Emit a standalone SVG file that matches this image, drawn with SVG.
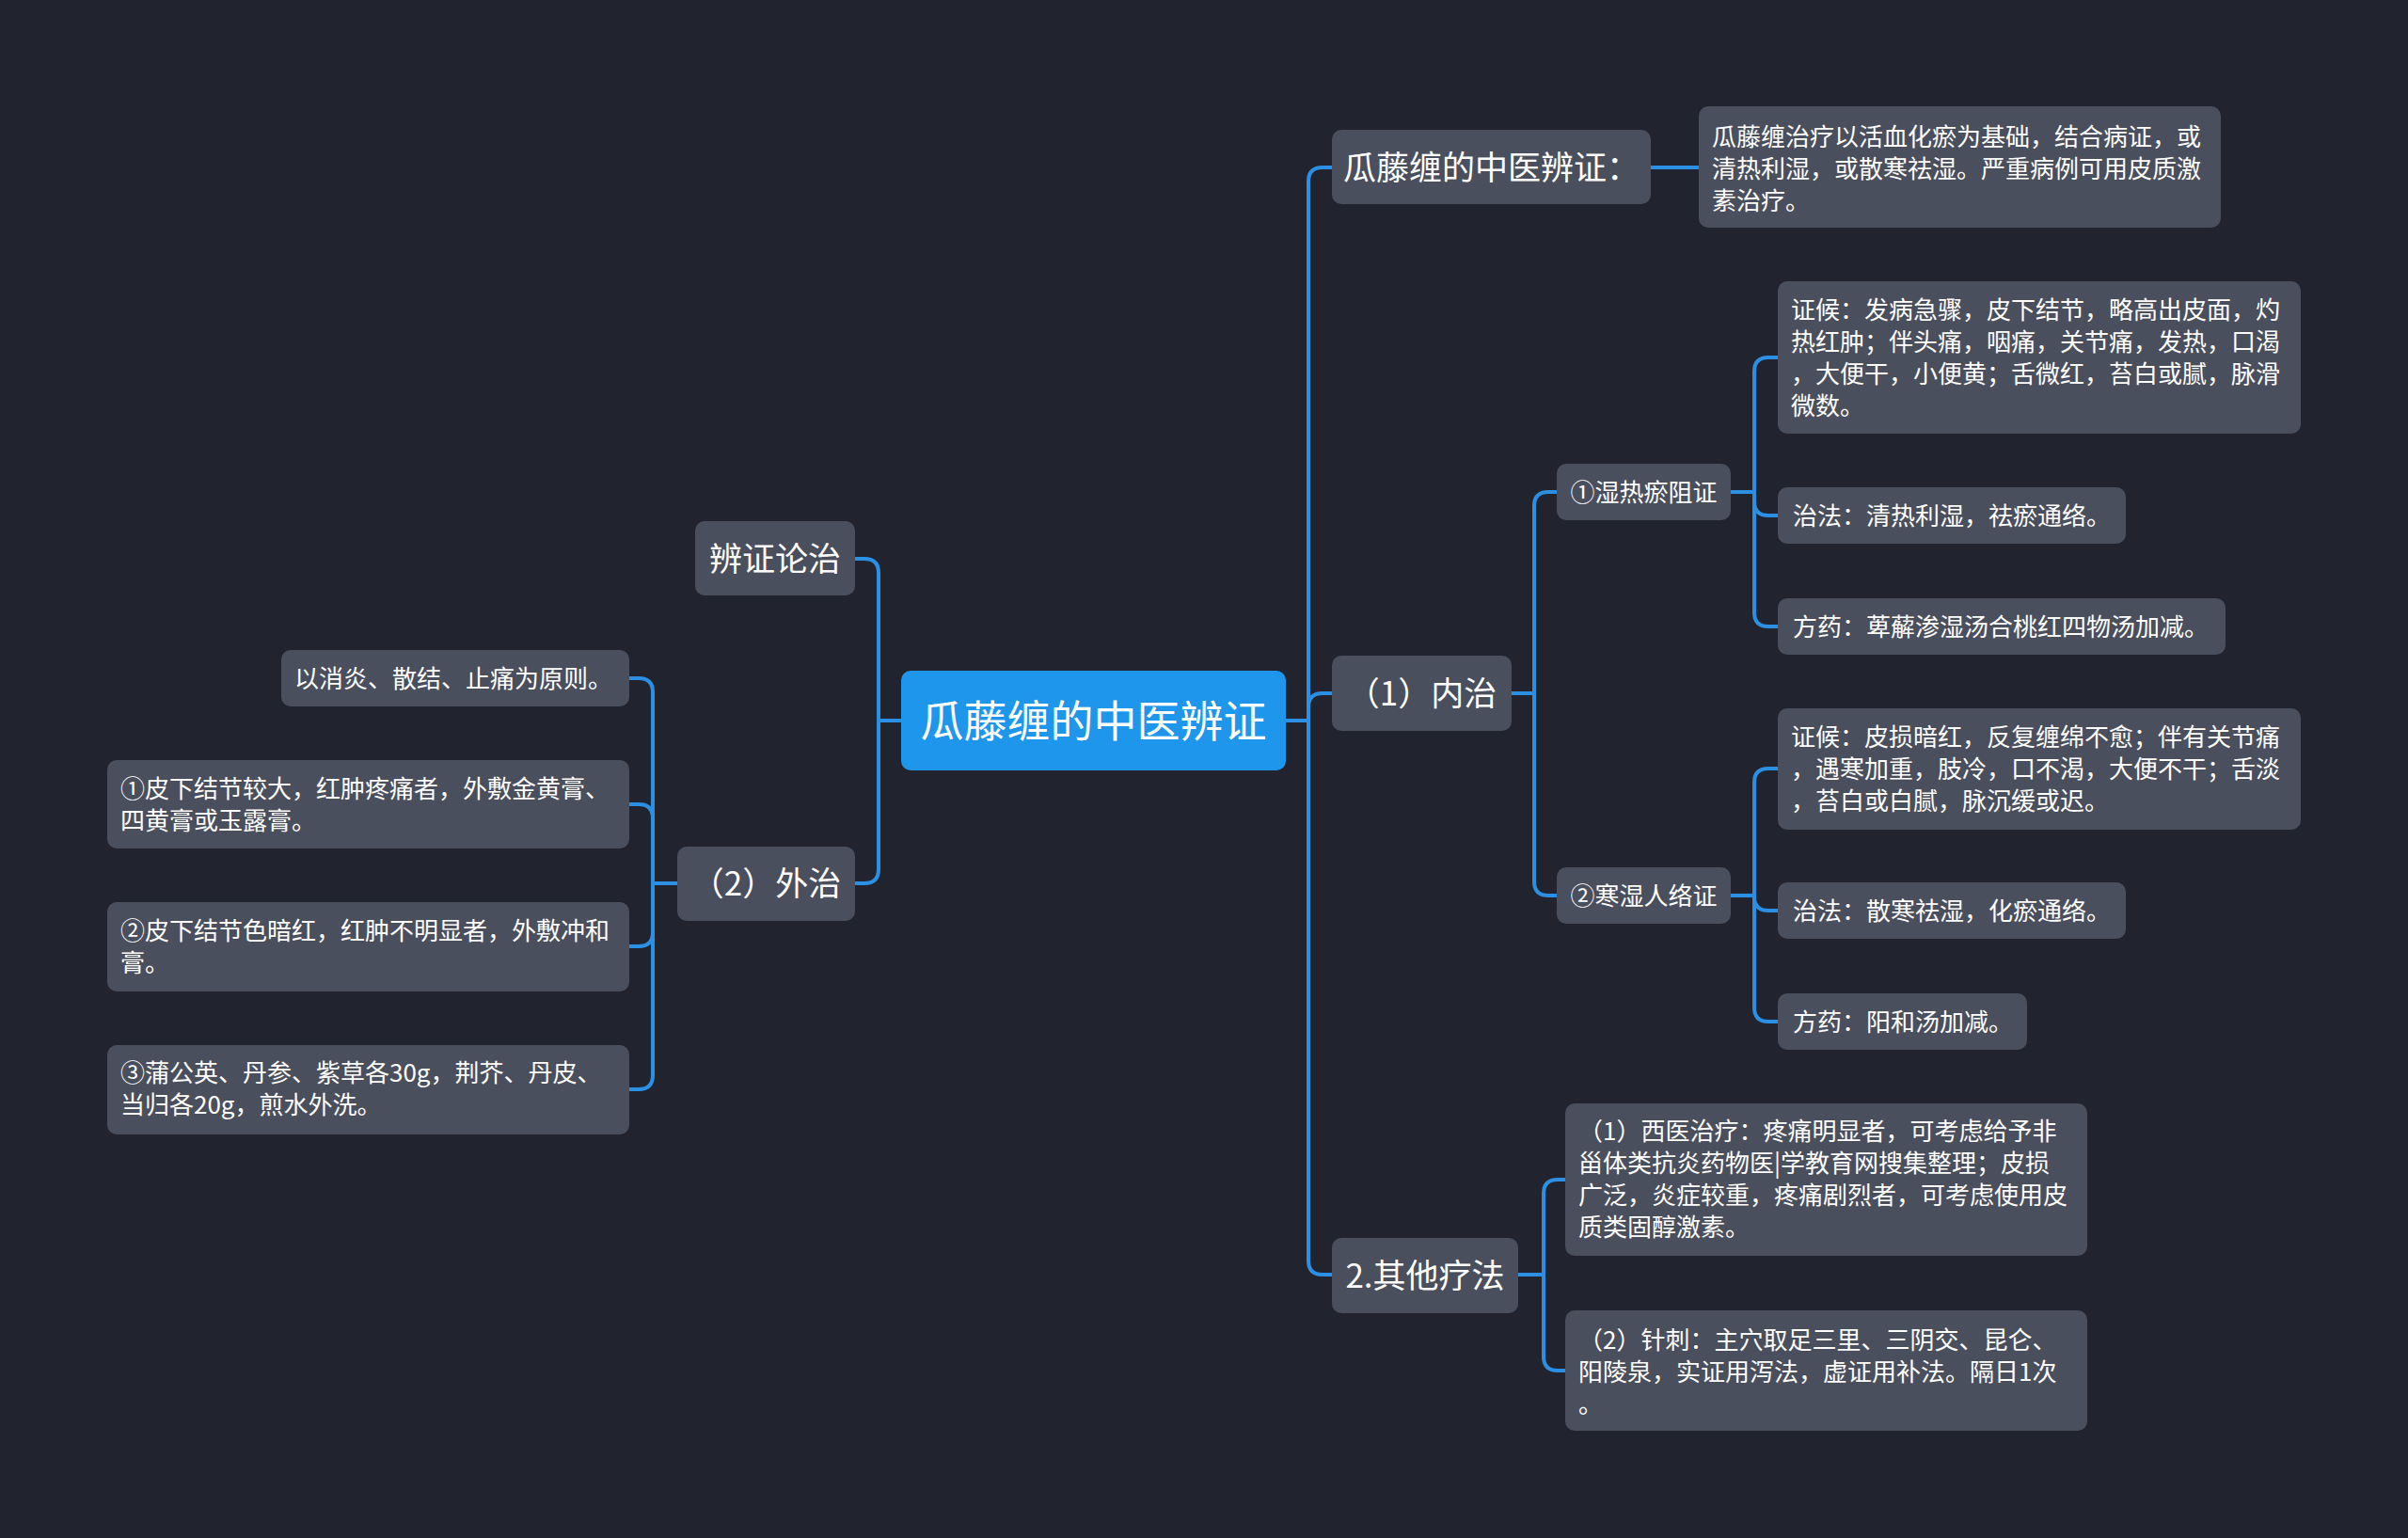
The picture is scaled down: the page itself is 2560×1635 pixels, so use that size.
<svg xmlns="http://www.w3.org/2000/svg" width="2560" height="1635" viewBox="0 0 2560 1635">
<style>
.bg{fill:#21242f}
.n{fill:#4a4f5e}
.root{fill:#1e96ec}
.c{fill:none;stroke:#2b8fe3;stroke-width:4;stroke-linecap:round;stroke-linejoin:round}
text{fill:#ffffff;font-family:"Noto Sans CJK SC","Noto Sans",sans-serif}
.t1{font-size:35px;text-anchor:middle}
.t2{font-size:26px;text-anchor:middle}
.t3{font-size:26px}
.t0{font-size:46px;text-anchor:middle}
</style>
<rect class="bg" x="0" y="0" width="2560" height="1635"/>
<g id="connectors">
<path class="c" d="M1367,766 H1391"/>
<path class="c" d="M1391,766 V193 Q1391,178 1406,178 H1416"/>
<path class="c" d="M1391,766 V752 Q1391,737 1406,737 H1416"/>
<path class="c" d="M1391,766 V1340 Q1391,1355 1406,1355 H1416"/>
<path class="c" d="M1755,178 H1806"/>
<path class="c" d="M1607,737 H1631"/>
<path class="c" d="M1631,737 V538 Q1631,523 1646,523 H1655"/>
<path class="c" d="M1631,737 V937 Q1631,952 1646,952 H1655"/>
<path class="c" d="M1840,523 H1865"/>
<path class="c" d="M1865,523 V395 Q1865,380 1880,380 H1890"/>
<path class="c" d="M1865,523 V533 Q1865,548 1880,548 H1890"/>
<path class="c" d="M1865,523 V651 Q1865,666 1880,666 H1890"/>
<path class="c" d="M1840,952 H1865"/>
<path class="c" d="M1865,952 V832 Q1865,817 1880,817 H1890"/>
<path class="c" d="M1865,952 V953 Q1865,968 1880,968 H1890"/>
<path class="c" d="M1865,952 V1071 Q1865,1086 1880,1086 H1890"/>
<path class="c" d="M1614,1355 H1641"/>
<path class="c" d="M1641,1355 V1269 Q1641,1254 1656,1254 H1664"/>
<path class="c" d="M1641,1355 V1442 Q1641,1457 1656,1457 H1664"/>
<path class="c" d="M958,766 H934"/>
<path class="c" d="M934,766 V609 Q934,594 919,594 H909"/>
<path class="c" d="M934,766 V924 Q934,939 919,939 H909"/>
<path class="c" d="M720,939 H694"/>
<path class="c" d="M694,939 V736 Q694,721 679,721 H669"/>
<path class="c" d="M694,939 V870 Q694,855 679,855 H669"/>
<path class="c" d="M694,939 V991 Q694,1006 679,1006 H669"/>
<path class="c" d="M694,939 V1143 Q694,1158 679,1158 H669"/>
</g>
<g id="root"><rect class="root" x="958" y="713" width="409" height="106" rx="10"/><text class="t0" x="1162.5" y="783">瓜藤缠的中医辨证</text></g>
<g id="n-zhongyi"><rect class="n" x="1416" y="138" width="339" height="79" rx="10"/><text class="t1" x="1585.5" y="191">瓜藤缠的中医辨证：</text></g>
<g id="n-zhongyi-c"><rect class="n" x="1806" y="113" width="555" height="129" rx="10"/>
<text class="t3" x="1820" y="155">瓜藤缠治疗以活血化瘀为基础，结合病证，或</text>
<text class="t3" x="1820" y="189">清热利湿，或散寒祛湿。严重病例可用皮质激</text>
<text class="t3" x="1820" y="223">素治疗。</text></g>
<g id="n-neizhi"><rect class="n" x="1416" y="697" width="191" height="80" rx="10"/><text class="t1" x="1511.5" y="750">（1）内治</text></g>
<g id="n-shire"><rect class="n" x="1655" y="493" width="185" height="60" rx="10"/><text class="t2" x="1747.5" y="533">①湿热瘀阻证</text></g>
<g id="n-shire-zh"><rect class="n" x="1890" y="299" width="556" height="162" rx="10"/>
<text class="t3" x="1904" y="339">证候：发病急骤，皮下结节，略高出皮面，灼</text>
<text class="t3" x="1904" y="373">热红肿；伴头痛，咽痛，关节痛，发热，口渴</text>
<text class="t3" x="1904" y="407">，大便干，小便黄；舌微红，苔白或腻，脉滑</text>
<text class="t3" x="1904" y="441">微数。</text></g>
<g id="n-shire-zf"><rect class="n" x="1890" y="518" width="370" height="60" rx="10"/><text class="t3" x="1906" y="558">治法：清热利湿，祛瘀通络。</text></g>
<g id="n-shire-fy"><rect class="n" x="1890" y="636" width="476" height="60" rx="10"/><text class="t3" x="1906" y="676">方药：萆薢渗湿汤合桃红四物汤加减。</text></g>
<g id="n-hanshi"><rect class="n" x="1655" y="922" width="185" height="60" rx="10"/><text class="t2" x="1747.5" y="962">②寒湿人络证</text></g>
<g id="n-hanshi-zh"><rect class="n" x="1890" y="753" width="556" height="129" rx="10"/>
<text class="t3" x="1904" y="793">证候：皮损暗红，反复缠绵不愈；伴有关节痛</text>
<text class="t3" x="1904" y="827">，遇寒加重，肢冷，口不渴，大便不干；舌淡</text>
<text class="t3" x="1904" y="861">，苔白或白腻，脉沉缓或迟。</text></g>
<g id="n-hanshi-zf"><rect class="n" x="1890" y="938" width="370" height="60" rx="10"/><text class="t3" x="1906" y="978">治法：散寒祛湿，化瘀通络。</text></g>
<g id="n-hanshi-fy"><rect class="n" x="1890" y="1056" width="265" height="60" rx="10"/><text class="t3" x="1906" y="1096">方药：阳和汤加减。</text></g>
<g id="n-qita"><rect class="n" x="1416" y="1316" width="198" height="80" rx="10"/><text class="t1" x="1515" y="1369">2.其他疗法</text></g>
<g id="n-xiyi"><rect class="n" x="1664" y="1173" width="555" height="162" rx="10"/>
<text class="t3" x="1678" y="1212">（1）西医治疗：疼痛明显者，可考虑给予非</text>
<text class="t3" x="1678" y="1246">甾体类抗炎药物医|学教育网搜集整理；皮损</text>
<text class="t3" x="1678" y="1280">广泛，炎症较重，疼痛剧烈者，可考虑使用皮</text>
<text class="t3" x="1678" y="1314">质类固醇激素。</text></g>
<g id="n-zhenci"><rect class="n" x="1664" y="1393" width="555" height="128" rx="10"/>
<text class="t3" x="1678" y="1434">（2）针刺：主穴取足三里、三阴交、昆仑、</text>
<text class="t3" x="1678" y="1468">阳陵泉，实证用泻法，虚证用补法。隔日1次</text>
<text class="t3" x="1678" y="1502">。</text></g>
<g id="n-bianzheng"><rect class="n" x="739" y="554" width="170" height="79" rx="10"/><text class="t1" x="824" y="607">辨证论治</text></g>
<g id="n-waizhi"><rect class="n" x="720" y="900" width="189" height="79" rx="10"/><text class="t1" x="814.5" y="952">（2）外治</text></g>
<g id="n-yuanze"><rect class="n" x="299" y="691" width="370" height="60" rx="10"/><text class="t3" x="313" y="731">以消炎、散结、止痛为原则。</text></g>
<g id="n-w1"><rect class="n" x="114" y="808" width="555" height="94" rx="10"/>
<text class="t3" x="128" y="848">①皮下结节较大，红肿疼痛者，外敷金黄膏、</text>
<text class="t3" x="128" y="882">四黄膏或玉露膏。</text></g>
<g id="n-w2"><rect class="n" x="114" y="959" width="555" height="95" rx="10"/>
<text class="t3" x="128" y="999">②皮下结节色暗红，红肿不明显者，外敷冲和</text>
<text class="t3" x="128" y="1033">膏。</text></g>
<g id="n-w3"><rect class="n" x="114" y="1111" width="555" height="95" rx="10"/>
<text class="t3" x="128" y="1150">③蒲公英、丹参、紫草各30g，荆芥、丹皮、</text>
<text class="t3" x="128" y="1184">当归各20g，煎水外洗。</text></g>
</svg>
